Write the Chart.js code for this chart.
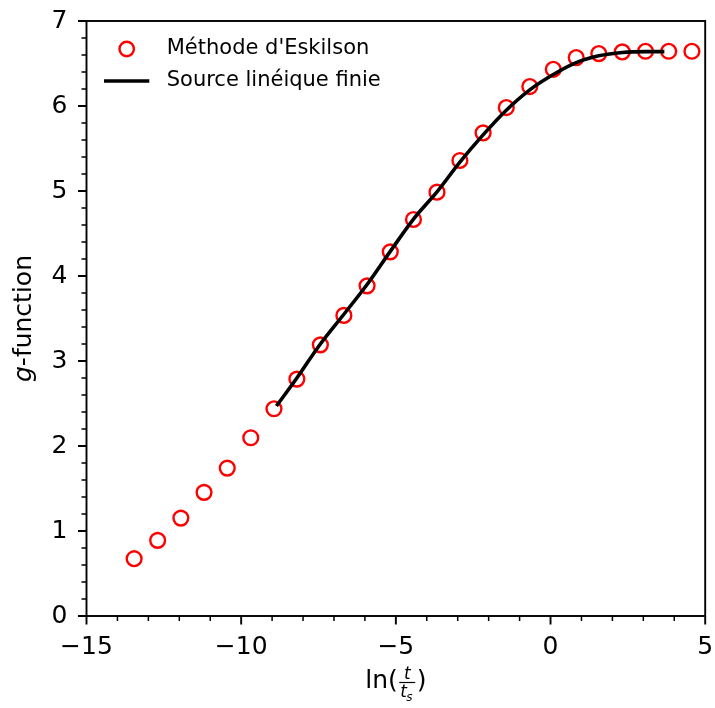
<!doctype html>
<html lang="fr">
	<head>
		<meta charset="UTF-8" />
		<title>g-function</title>
		<script src="https://cdn.jsdelivr.net/npm/chart.js"></script>
		<style>
			body {
				margin: 0;
				background: #fff;
			}
			canvas {
				display: block;
			}
		</style>
	</head>
	<body>
		<canvas id="gChart" width="715" height="708"></canvas>

		<script>
			// Méthode d'Eskilson (cercles rouges)
			const eskX = [-13.46, -12.70, -11.95, -11.20, -10.45, -9.69, -8.94, -8.20, -7.44, -6.68, -5.93, -5.18, -4.43, -3.67, -2.93, -2.18, -1.43, -0.67, 0.09, 0.83, 1.56, 2.32, 3.07, 3.82, 4.57]
			const eskY = [0.674, 0.890, 1.152, 1.455, 1.740, 2.097, 2.438, 2.787, 3.190, 3.536, 3.884, 4.284, 4.665, 4.986, 5.359, 5.683, 5.982, 6.229, 6.432, 6.570, 6.617, 6.636, 6.644, 6.644, 6.644]

			// Source linéique finie (ligne noire)
			const flsX = [-8.86, -8.20, -7.44, -6.68, -5.93, -5.18, -4.43, -3.67, -2.93, -2.18, -1.43, -0.67, 0.09, 0.83, 1.56, 2.32, 3.07, 3.68]
			const flsY = [2.47, 2.80, 3.20, 3.55, 3.90, 4.29, 4.67, 4.99, 5.34, 5.66, 5.95, 6.19, 6.37, 6.51, 6.59, 6.63, 6.64, 6.64]

			const xTicks = [-15, -10, -5, 0, 5]
			const yTicks = [0, 1, 2, 3, 4, 5, 6, 7]

			const FONT = 'DejaVu Sans'
			const fmt = (v) => String(v).replace('-', '\u2212')

			// cadre, graduations, légende et titres des axes
			const decorPlugin = {
				id: 'decor',
				afterDraw(chart) {
					const ctx = chart.ctx
					const a = chart.chartArea
					const sx = chart.scales.x
					const sy = chart.scales.y
					ctx.save()
					ctx.strokeStyle = '#000'
					ctx.lineCap = 'butt'

					// graduations mineures
					ctx.lineWidth = 1.5
					ctx.beginPath()
					for (let v = -15; v <= 5; v++) {
						if (v % 5 === 0) continue
						const px = sx.getPixelForValue(v)
						ctx.moveTo(px, a.bottom)
						ctx.lineTo(px, a.bottom + 5)
					}
					for (let i = 0; i <= 35; i++) {
						if (i % 5 === 0) continue
						const py = sy.getPixelForValue(i * 0.2)
						ctx.moveTo(a.left, py)
						ctx.lineTo(a.left - 5, py)
					}
					ctx.stroke()

					// graduations majeures
					ctx.lineWidth = 1.9
					ctx.beginPath()
					xTicks.forEach((v) => {
						const px = sx.getPixelForValue(v)
						ctx.moveTo(px, a.bottom)
						ctx.lineTo(px, a.bottom + 8.5)
					})
					yTicks.forEach((v) => {
						const py = sy.getPixelForValue(v)
						ctx.moveTo(a.left, py)
						ctx.lineTo(a.left - 8.5, py)
					})
					ctx.stroke()

					// cadre
					ctx.lineWidth = 1.9
					ctx.strokeRect(a.left, a.top, a.right - a.left, a.bottom - a.top)

					// légende
					ctx.lineWidth = 2.4
					ctx.strokeStyle = '#ff0000'
					ctx.beginPath()
					ctx.arc(126.7, 49, 7.2, 0, Math.PI * 2)
					ctx.stroke()
					ctx.strokeStyle = '#000'
					ctx.lineWidth = 3.6
					ctx.beginPath()
					ctx.moveTo(104, 81)
					ctx.lineTo(149.3, 81)
					ctx.stroke()
					ctx.fillStyle = '#000'
					ctx.font = `21px "${FONT}"`
					ctx.textAlign = 'left'
					ctx.textBaseline = 'middle'
					ctx.fillText("Méthode d'Eskilson", 166.7, 49)
					ctx.fillText('Source linéique finie', 166.7, 81)

					// titre axe y : g-function
					ctx.save()
					ctx.translate(31, 318.5)
					ctx.rotate(-Math.PI / 2)
					ctx.textBaseline = 'alphabetic'
					ctx.font = `italic 25px "${FONT}"`
					const wg = ctx.measureText('g').width
					ctx.font = `25px "${FONT}"`
					const wr = ctx.measureText('-function').width
					let x0 = -(wg + wr) / 2
					ctx.font = `italic 25px "${FONT}"`
					ctx.fillText('g', x0, 0)
					ctx.font = `25px "${FONT}"`
					ctx.fillText('-function', x0 + wg, 0)
					ctx.restore()

					// titre axe x : ln(t/ts)
					ctx.textBaseline = 'alphabetic'
					ctx.font = `25px "${FONT}"`
					const wl = ctx.measureText('ln(').width
					const fracW = 16
					const wp = ctx.measureText(')').width
					let xs = (a.left + a.right) / 2 - (wl + fracW + wp + 3) / 2
					ctx.fillText('ln(', xs, 688)
					const fx = xs + wl + 1.5
					ctx.font = `italic 17px "${FONT}"`
					ctx.textAlign = 'center'
					ctx.fillText('t', fx + fracW / 2, 679)
					ctx.lineWidth = 1.2
					ctx.beginPath()
					ctx.moveTo(fx, 682.5)
					ctx.lineTo(fx + fracW, 682.5)
					ctx.stroke()
					ctx.textAlign = 'left'
					ctx.fillText('t', fx + 1, 697)
					ctx.font = `italic 12px "${FONT}"`
					ctx.fillText('s', fx + 7, 701)
					ctx.font = `25px "${FONT}"`
					ctx.fillText(')', fx + fracW + 1.5, 688)

					ctx.restore()
				}
			}

			const ctx = document.getElementById('gChart').getContext('2d')

			new Chart(ctx, {
				type: 'scatter',
				data: {
					datasets: [
						{
							label: 'Source linéique finie',
							data: flsX.map((x, i) => ({ x, y: flsY[i] })),
							showLine: true,
							borderColor: '#000',
							borderWidth: 3.6,
							pointRadius: 0,
							cubicInterpolationMode: 'monotone',
							order: 0
						},
						{
							label: "Méthode d'Eskilson",
							data: eskX.map((x, i) => ({ x, y: eskY[i] })),
							pointStyle: 'circle',
							pointRadius: 7.4,
							borderWidth: 2.4,
							borderColor: '#ff0000',
							backgroundColor: 'rgba(0,0,0,0)',
							order: 1
						}
					]
				},
				options: {
					responsive: false,
					animation: false,
					layout: { padding: { top: 21, right: 8.5, left: 0, bottom: 0 } },
					plugins: {
						legend: { display: false },
						tooltip: { enabled: false }
					},
					scales: {
						x: {
							type: 'linear',
							min: -15,
							max: 5,
							afterBuildTicks: (s) => {
								s.ticks = xTicks.map((v) => ({ value: v }))
							},
							ticks: {
								font: { family: FONT, size: 25 },
								color: '#000',
								padding: 16,
								maxRotation: 0,
								callback: fmt
							},
							grid: { display: false, drawTicks: false },
							border: { display: false },
							afterFit: (s) => {
								s.height = 92
								s.paddingLeft = 0
								s.paddingRight = 0
							}
						},
						y: {
							type: 'linear',
							min: 0,
							max: 7,
							afterBuildTicks: (s) => {
								s.ticks = yTicks.map((v) => ({ value: v }))
							},
							ticks: {
								font: { family: FONT, size: 25 },
								color: '#000',
								padding: 19,
								callback: fmt
							},
							grid: { display: false, drawTicks: false },
							border: { display: false },
							afterFit: (s) => {
								s.width = 86.5
								s.paddingTop = 0
								s.paddingBottom = 0
							}
						}
					}
				},
				plugins: [decorPlugin]
			})
		</script>
	</body>
</html>
